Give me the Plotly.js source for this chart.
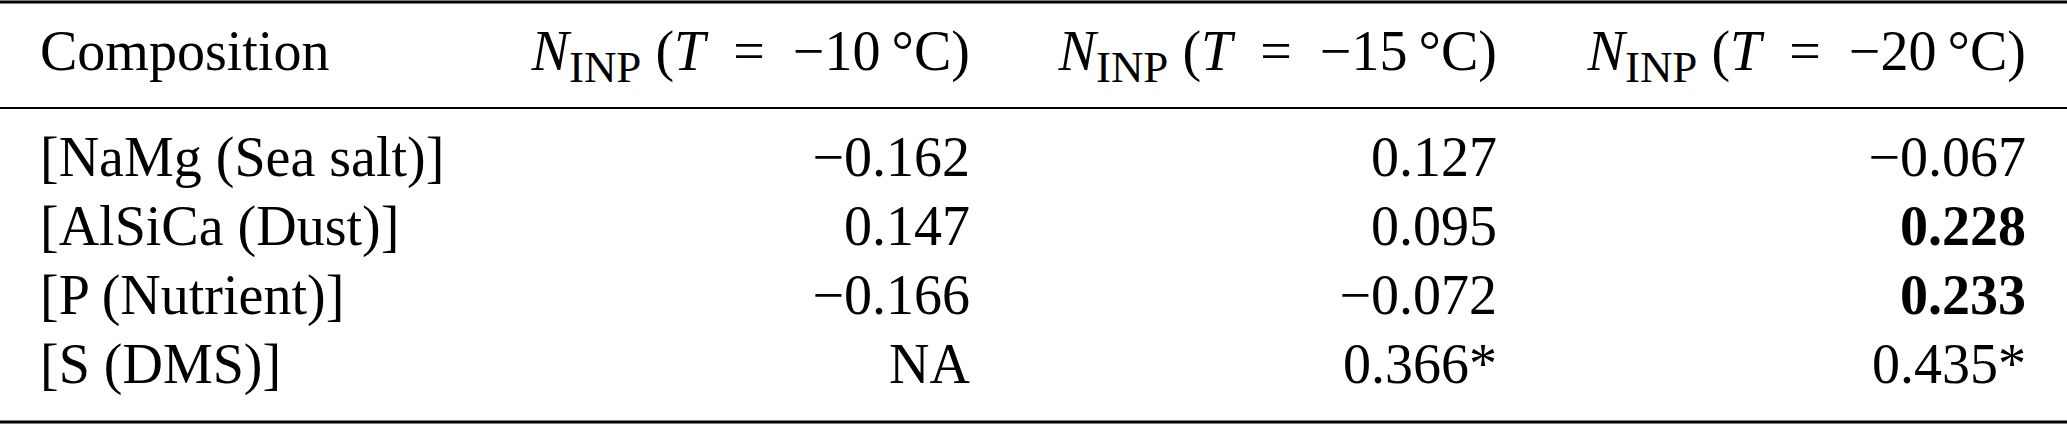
<!DOCTYPE html>
<html>
<head>
<meta charset="utf-8">
<script src="https://cdn.plot.ly/plotly-3.0.1.min.js"></script>
<style>html,body{margin:0;padding:0;background:#fff;}#chart{width:2067px;height:424px;}</style>
</head>
<body>
<div id="chart"></div>
<script>
// ---- data ----
var compositions = ['[NaMg (Sea salt)]', '[AlSiCa (Dust)]', '[P (Nutrient)]', '[S (DMS)]'];
var temperatures = [-10, -15, -20];
var ninpT10 = [-0.162, 0.147, -0.166, null];
var ninpT15 = [0.127, 0.095, -0.072, 0.366];
var ninpT20 = [-0.067, 0.228, 0.233, 0.435];
var boldT10 = [false, false, false, false];
var boldT15 = [false, false, false, false];
var boldT20 = [false, true, true, false];
var starT10 = [false, false, false, false];
var starT15 = [false, false, false, true];
var starT20 = [false, false, false, true];
var firstHeader = 'Composition';

// ---- layout constants (positions / styles) ----
var W = 2067, H = 424;
var colAnchor = [40, 970, 1497, 2026];   // left edge of label column, right edges of value columns (x axis units = px)
var rowPitch = 69;                        // px per row
var row0 = 162;                           // px centre of first body row
var headerPx = 56;                        // px centre of header row
var headerY = (headerPx - row0) / rowPitch;
var fontFam = '"Liberation Serif", "Times New Roman", Times, serif';
var fsize = 56;

function fmt(v, bold, star) {
  if (v === null) return 'NA';
  var s = v.toFixed(3).replace('-', '\u2212');
  if (star) s += '*';
  if (bold) s = '<b>' + s + '</b>';
  return s;
}
function header(t) {
  return '<i>N</i><sub><span style="font-size:45px">INP</span></sub> (<i>T</i>\u2002=\u2002\u2212' + Math.abs(t) + '\u2009\u00B0C)';
}

var rowsY = compositions.map(function (_, i) { return i; });
var valueCols = [[ninpT10, boldT10, starT10], [ninpT15, boldT15, starT15], [ninpT20, boldT20, starT20]];

var traces = [];
// label column (left aligned)
traces.push({
  type: 'scatter', mode: 'text',
  x: [colAnchor[0]].concat(compositions.map(function () { return colAnchor[0]; })),
  y: [headerY].concat(rowsY),
  text: [firstHeader].concat(compositions),
  textposition: 'middle right',
  textfont: {family: fontFam, size: fsize, color: '#000'},
  hoverinfo: 'skip', showlegend: false
});
// value columns (right aligned)
valueCols.forEach(function (col, c) {
  traces.push({
    type: 'scatter', mode: 'text',
    x: [colAnchor[c + 1]].concat(rowsY.map(function () { return colAnchor[c + 1]; })),
    y: [headerY].concat(rowsY),
    text: [header(temperatures[c])].concat(col[0].map(function (v, i) { return fmt(v, col[1][i], col[2][i]); })),
    textposition: 'middle left',
    textfont: {family: fontFam, size: fsize, color: '#000'},
    hoverinfo: 'skip', showlegend: false
  });
});

var yTop = -row0 / rowPitch, yBot = (H - row0) / rowPitch;
function pxToY(px) { return (px - row0) / rowPitch; }

var layout = {
  width: W, height: H,
  margin: {l: 0, r: 0, t: 0, b: 0, pad: 0},
  paper_bgcolor: '#fff', plot_bgcolor: '#fff',
  xaxis: {range: [0, W], visible: false, fixedrange: true},
  yaxis: {range: [yBot, yTop], visible: false, fixedrange: true},
  shapes: [
    {type: 'line', xref: 'paper', x0: 0, x1: 1, yref: 'y', y0: pxToY(2), y1: pxToY(2), line: {color: '#000', width: 3}},
    {type: 'line', xref: 'paper', x0: 0, x1: 1, yref: 'y', y0: pxToY(108), y1: pxToY(108), line: {color: '#000', width: 2}},
    {type: 'line', xref: 'paper', x0: 0, x1: 1, yref: 'y', y0: pxToY(422), y1: pxToY(422), line: {color: '#000', width: 3}}
  ],
  showlegend: false
};

Plotly.newPlot('chart', traces, layout, {displayModeBar: false, staticPlot: true});
</script>
</body>
</html>
